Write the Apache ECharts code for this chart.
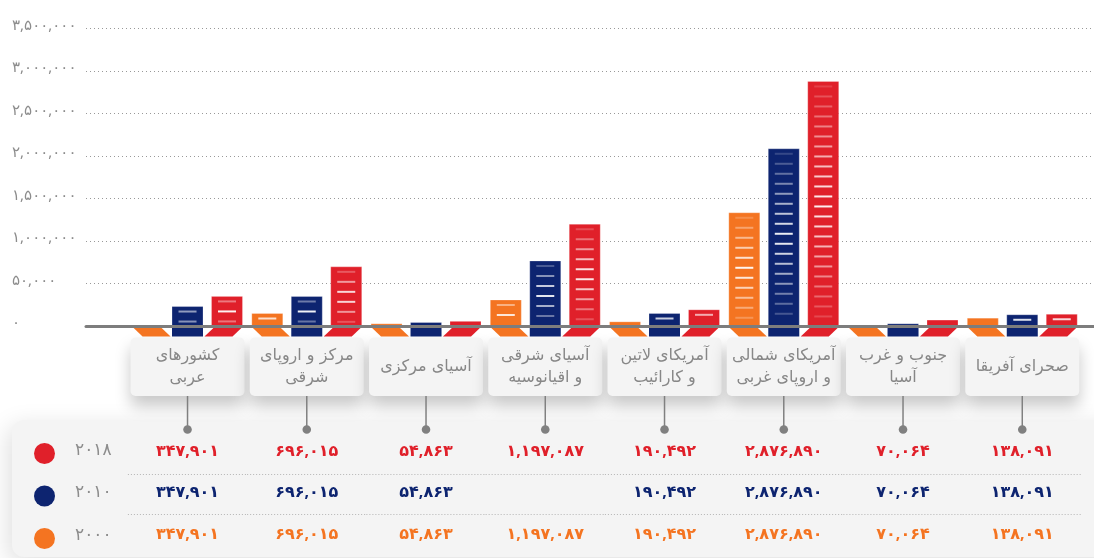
<!DOCTYPE html>
<html>
<head>
<meta charset="utf-8">
<script src="https://cdn.jsdelivr.net/npm/echarts@6/dist/echarts.min.js"></script>
<style>
  html, body { margin: 0; padding: 0; background: #fff; }
  #chart { width: 1094px; height: 558px; }
</style>
</head>
<body>
<div id="chart"></div>
<script>
// categories, left to right as shown
const categories = [
  'کشورهای\nعربی',
  'مرکز و اروپای\nشرقی',
  'آسیای مرکزی',
  'آسیای شرقی\nو اقیانوسیه',
  'آمریکای لاتین\nو کارائیب',
  'آمریکای شمالی\nو اروپای غربی',
  'جنوب و غرب\nآسیا',
  'صحرای آفریقا'
];
const years = ['۲۰۰۰', '۲۰۱۰', '۲۰۱۸'];

// bar heights
const values2000 = [0, 147000, 26000, 306000, 49000, 1332000, 6000, 92000];
const values2010 = [229000, 347000, 41000, 765000, 147000, 2085000, 26000, 132000];
const values2018 = [347901, 696015, 54863, 1197087, 190492, 2876890, 70064, 138091];

// numbers printed in the table under the chart
const table2018 = [347901, 696015, 54863, 1197087, 190492, 2876890, 70064, 138091];
const table2010 = [347901, 696015, 54863, null, 190492, 2876890, 70064, 138091];
const table2000 = [347901, 696015, 54863, 1197087, 190492, 2876890, 70064, 138091];

const yTickLabels = ['۰', '۵۰,۰۰۰', '۱,۰۰۰,۰۰۰', '۱,۵۰۰,۰۰۰', '۲,۰۰۰,۰۰۰', '۲,۵۰۰,۰۰۰', '۳,۰۰۰,۰۰۰', '۳,۵۰۰,۰۰۰'];

const colors = { '۲۰۰۰': '#f47421', '۲۰۱۰': '#0d2470', '۲۰۱۸': '#e0202a' };
const FONT = "'DejaVu Sans', sans-serif";
const NUM_FONT = "'Noto Sans', 'DejaVu Sans', sans-serif";

function toPersian(n) {
  return n.toLocaleString('en-US').replace(/\d/g, d => '۰۱۲۳۴۵۶۷۸۹'[d]);
}

function barRenderer(slot, color, fold) {
  return function (params, api) {
    const bw = api.size([1, 0])[0];
    const base = api.coord([api.value(0), 0]);
    const top = api.coord([api.value(0), api.value(1)]);
    const cx = base[0] + slot * bw * 0.331;
    const w = bw * 0.26;
    const L = cx - w / 2, R = cx + w / 2, B = base[1], T = top[1];
    const children = [];
    let pts;
    if (fold === 'right') pts = [[L - 1, B], [R - 4, B], [R + 7, B + 10.5], [L + 10, B + 10.5]];
    else if (fold === 'left') pts = [[L + 4, B], [R + 1, B], [R - 10, B + 10.5], [L - 7, B + 10.5]];
    else pts = [[L, B], [R, B], [R, B + 10.5], [L, B + 10.5]];
    children.push({ type: 'polygon', shape: { points: pts }, style: { fill: color } });
    if (B - T > 0.5) {
      children.push({
        type: 'rect',
        shape: { x: L, y: T, width: w, height: B - T },
        style: { fill: color, stroke: 'rgba(255,255,255,0.25)', lineWidth: 1 }
      });
      for (let y = T + 5; y < B - 3; y += 10) {
        const t = (y - T) / (B - T);
        const a = 0.12 + 0.83 * (1 - Math.abs(2 * t - 1));
        children.push({
          type: 'rect',
          shape: { x: cx - 9, y: y - 1, width: 18, height: 2 },
          style: { fill: 'rgba(255,255,255,' + a.toFixed(2) + ')' }
        });
      }
    }
    return { type: 'group', children: children };
  };
}

const rows = [
  { y: 451, vals: table2018, color: colors['۲۰۱۸'] },
  { y: 492.5, vals: table2010, color: colors['۲۰۱۰'] },
  { y: 534.5, vals: table2000, color: colors['۲۰۰۰'] }
];

function tableRenderer(params, api) {
  const i = params.dataIndex;
  const bw = api.size([1, 0])[0];
  const cx = api.coord([i, 0])[0];
  const children = [
    {
      type: 'rect',
      shape: { x: cx - 57, y: 337.5, width: 114, height: 58.5, r: 5 },
      style: { fill: '#f4f4f4', shadowBlur: 16, shadowOffsetY: 10, shadowColor: 'rgba(0,0,0,0.22)' }
    },
    { type: 'line', shape: { x1: cx, y1: 396, x2: cx, y2: 429 }, style: { stroke: '#808080', lineWidth: 1.5 } },
    { type: 'circle', shape: { cx: cx, cy: 429.5, r: 4.3 }, style: { fill: '#808080' } },
    { type: 'line', shape: { x1: cx - bw / 2, y1: 474.5, x2: cx + bw / 2, y2: 474.5 }, style: { stroke: '#b4b4b4', lineWidth: 1, lineDash: [1, 2] } },
    { type: 'line', shape: { x1: cx - bw / 2, y1: 514.5, x2: cx + bw / 2, y2: 514.5 }, style: { stroke: '#b4b4b4', lineWidth: 1, lineDash: [1, 2] } }
  ];
  rows.forEach(function (r) {
    if (r.vals[i] == null) return;
    children.push({
      type: 'text',
      x: cx, y: r.y,
      style: {
        text: toPersian(r.vals[i]), fill: r.color,
        fontSize: 16, fontWeight: 'bold', fontFamily: NUM_FONT,
        align: 'center', verticalAlign: 'middle'
      }
    });
  });
  return { type: 'group', children: children };
}

const chart = echarts.init(document.getElementById('chart'), null, { renderer: 'canvas' });

chart.setOption({
  animation: false,
  backgroundColor: '#ffffff',
  graphic: [{
    type: 'rect',
    silent: true,
    z: -10,
    shape: { x: 12, y: 420, width: 1110, height: 137, r: 12 },
    style: { fill: '#f4f4f4', shadowBlur: 24, shadowColor: 'rgba(0,0,0,0.13)', shadowOffsetX: -4, shadowOffsetY: 6 }
  }],
  legend: {
    data: ['۲۰۱۸', '۲۰۱۰', '۲۰۰۰'],
    orient: 'vertical',
    left: 34,
    top: 441.5,
    padding: 0,
    icon: 'circle',
    itemWidth: 21,
    itemHeight: 21,
    itemGap: 20,
    formatter: '{y|{name}}',
    textStyle: {
      rich: {
        y: { fontSize: 17, color: '#8c8c8c', fontFamily: NUM_FONT, padding: [0, 0, 7, 15] }
      }
    }
  },
  grid: [
    { left: 86, right: 0, top: 28.5, bottom: 232 },
    { left: 127.9, right: 12.1, top: 28.5, bottom: 232 }
  ],
  xAxis: [
    {
      gridIndex: 0, type: 'value', min: 0, max: 1, z: 5,
      axisLine: { show: true, lineStyle: { color: '#7d7d7d', width: 3 } },
      axisTick: { show: false }, axisLabel: { show: false }, splitLine: { show: false }
    },
    {
      gridIndex: 1, type: 'category', data: categories, z: 10,
      axisLine: { show: false }, axisTick: { show: false }, splitLine: { show: false },
      axisLabel: {
        interval: 0, margin: 40.5, verticalAlign: 'middle',
        fontSize: 16, lineHeight: 22, color: '#878787', fontFamily: FONT
      }
    }
  ],
  yAxis: [
    {
      gridIndex: 0, type: 'value', min: 0, max: 3500000, interval: 500000,
      axisLine: { show: false }, axisTick: { show: false },
      axisLabel: {
        align: 'left', margin: 74, verticalAlign: 'middle',
        formatter: function (v) { return '{t|' + yTickLabels[Math.round(v / 500000)] + '}'; },
        rich: {
          t: { fontSize: 15, color: '#8c8c8c', fontFamily: NUM_FONT, padding: [0, 0, 6, 0] }
        }
      },
      splitLine: { show: true, lineStyle: { color: '#999999', width: 1, type: [1, 3] } }
    },
    {
      gridIndex: 1, type: 'value', min: 0, max: 3500000, interval: 500000, show: false,
      splitLine: { show: false }
    }
  ],
  series: [
    {
      name: '۲۰۰۰', type: 'custom', xAxisIndex: 1, yAxisIndex: 1, clip: false, z: 3,
      itemStyle: { color: colors['۲۰۰۰'] },
      renderItem: barRenderer(-1, colors['۲۰۰۰'], 'right'),
      data: values2000.map(function (v, i) { return [i, v]; })
    },
    {
      name: '۲۰۱۰', type: 'custom', xAxisIndex: 1, yAxisIndex: 1, clip: false, z: 3,
      itemStyle: { color: colors['۲۰۱۰'] },
      renderItem: barRenderer(0, colors['۲۰۱۰'], 'none'),
      data: values2010.map(function (v, i) { return [i, v]; })
    },
    {
      name: '۲۰۱۸', type: 'custom', xAxisIndex: 1, yAxisIndex: 1, clip: false, z: 3,
      itemStyle: { color: colors['۲۰۱۸'] },
      renderItem: barRenderer(1, colors['۲۰۱۸'], 'left'),
      data: values2018.map(function (v, i) { return [i, v]; })
    },
    {
      name: 'table', type: 'custom', xAxisIndex: 1, yAxisIndex: 1, clip: false, z: 2, silent: true,
      renderItem: tableRenderer,
      data: categories.map(function (c, i) { return [i, 0]; })
    }
  ]
});
</script>
</body>
</html>
